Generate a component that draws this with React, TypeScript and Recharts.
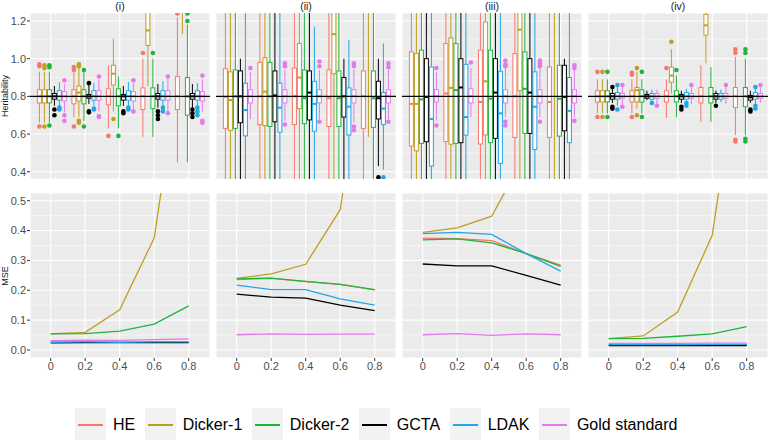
import React from "react";
import { ComposedChart, Bar, Line, XAxis, YAxis, CartesianGrid, ReferenceLine } from "recharts";

const METHODS = ["HE", "Dicker-1", "Dicker-2", "GCTA", "LDAK", "Gold standard"];
const COLORS = ["#F8766D", "#C09E22", "#1FB53A", "#000000", "#21A6E8", "#E27AEB"];
const H2 = [0, 0.2, 0.4, 0.6, 0.8];
const H2_LABELS = ["0", "0.2", "0.4", "0.6", "0.8"];
const PANELS = ["(i)", "(ii)", "(iii)", "(iv)"];
const HERIT_TICKS = [0.4, 0.6, 0.8, 1.0, 1.2];
const HERIT_MINOR = [0.5, 0.7, 0.9, 1.1];
const MSE_TICKS = [0, 0.1, 0.2, 0.3, 0.4, 0.5];
const MSE_MINOR = [0.05, 0.15, 0.25, 0.35, 0.45];
const TRUE_H2 = 0.8;

type Box = [number, number, number, number, number, number[]]; // lo, q1, med, q3, hi, outliers

// one row per h2 value, one box per method (HE, Dicker-1, Dicker-2, GCTA, LDAK, Gold)
const BOX_I: Box[][] = [
  [[.66, .765, .80, .835, .93, [.97, .96, .64]], [.66, .765, .80, .835, .93, [.965, .95, .64]], [.66, .765, .80, .835, .93, [.965, .955, .645]], [.75, .785, .80, .815, .855, [.73, .70]], [.745, .78, .80, .83, .875, [.74, .73]], [.715, .775, .80, .825, .865, [.885, .70, .67]]],
  [[.69, .76, .80, .835, .95, [.955, .94, .64]], [.69, .775, .82, .855, .955, [.97, .96, .67, .66]], [.67, .76, .80, .835, .93, [.94, .64]], [.76, .79, .80, .81, .86, [.87, .72, .715]], [.75, .78, .80, .83, .87, [.735, .73]], [.72, .78, .80, .83, .89, [.905, .695, .69]]],
  [[.63, .755, .80, .84, .965, [.59]], [.72, .86, .92, .965, 1.105, [.68]], [.63, .75, .80, .84, .905, [.59]], [.75, .78, .80, .81, .855, [.72, .71]], [.75, .78, .80, .83, .875, [.74, .73]], [.73, .775, .80, .825, .87, [.885, .72]]],
  [[.585, .73, .80, .845, 1.0, [1.03]], [.855, 1.07, 1.15, 1.245, 1.40, []], [.585, .735, .80, .845, 1.0, [1.03]], [.74, .785, .80, .815, .865, [.72, .70, .68]], [.75, .78, .80, .83, .88, [.74, .72]], [.72, .78, .80, .83, .895, [.905, .71]]],
  [[.45, .73, .80, .905, 1.22, [1.24]], [1.13, 1.35, 1.5, 1.65, 2.0, []], [.45, .70, .80, .90, 1.18, [1.24, 1.20]], [.74, .785, .80, .815, .865, [.73, .71, .69]], [.75, .78, .80, .83, .87, [.74, .72, .70]], [.72, .775, .80, .825, .89, [.91, .67, .66]]],
];
const BOX_II: Box[][] = [
  [[.2, .63, .797, .947, 1.4, []], [.2, .62, .78, .93, 1.4, []], [.2, .63, .80, .94, 1.4, []], [.2, .66, .80, .935, 1.0, []], [.2, .59, .727, .87, 1.4, []], [.68, .765, .80, .835, .93, [.95]]],
  [[.2, .65, .80, .98, 1.4, []], [.2, .645, .825, 1.005, 1.4, []], [.2, .64, .80, .98, 1.4, []], [.2, .665, .805, .935, 1.4, []], [.2, .61, .74, .87, 1.4, []], [.67, .765, .80, .835, .94, [.975, .96, .65]]],
  [[.2, .65, .80, .95, 1.4, []], [.2, .735, .90, 1.08, 1.4, []], [.2, .655, .79, .94, 1.4, []], [.2, .675, .82, .935, 1.4, []], [.2, .615, .76, .88, 1.17, []], [.68, .765, .80, .835, .94, [.985, .96, .665]]],
  [[.2, .64, .79, .94, 1.4, []], [.2, .92, 1.13, 1.3, 1.6, []], [.2, .64, .79, .935, 1.4, []], [.2, .69, .80, .90, 1.0, []], [.2, .595, .745, .845, 1.10, []], [.66, .765, .80, .835, .94, [.975, .96, .64, .62]]],
  [[.2, .63, .80, .935, 1.4, []], [.585, 1.3, 1.5, 1.7, 2.0, []], [.2, .635, .79, .935, 1.4, []], [.43, .68, .79, .88, 1.0, [.37]], [.41, .65, .735, .82, 1.08, [.37]], [.68, .765, .80, .835, .94, [.975, .955, .665]]],
];
const BOX_III: Box[][] = [
  [[.2, .536, .76, 1.036, 1.6, []], [.2, .511, .76, 1.027, 1.6, []], [.2, .55, .784, 1.045, 1.6, []], [.2, .559, .797, 1.0, 1.6, []], [.2, .43, .68, .956, 1.6, []], [.67, .77, .80, .836, .93, [.95, .645]]],
  [[.2, .56, .815, 1.08, 1.6, []], [.2, .546, .845, 1.11, 1.6, []], [.2, .55, .833, 1.08, 1.6, []], [.2, .554, .847, 1.0, 1.6, []], [.2, .594, .69, .97, 1.6, []], [.69, .765, .80, .84, .95, [.98]]],
  [[.2, .547, .77, 1.045, 1.6, []], [.2, .595, .88, 1.195, 1.8, []], [.2, .554, .788, 1.045, 1.6, []], [.2, .577, .82, 1.0, 1.6, []], [.2, .444, .71, .933, 1.6, []], [.69, .765, .80, .835, .95, [.99, .97, .96, .665, .645]]],
  [[.2, .582, .80, 1.027, 1.6, []], [.2, .83, 1.154, 1.35, 1.8, []], [.2, .603, .84, 1.036, 1.6, []], [.2, .603, .82, 1.0, 1.6, []], [.2, .518, .745, .93, 1.6, []], [.69, .765, .80, .835, .95, [.99, .975, .96, .665]]],
  [[.2, .582, .77, .956, 1.6, []], [.2, 1.3, 1.5, 1.7, 2.0, []], [.2, .589, .787, .965, 1.6, []], [.2, .617, .797, .965, 1.0, []], [.2, .554, .723, .90, 1.6, []], [.69, .765, .80, .835, .94, [.965, .95, .67]]],
];
const BOX_IV: Box[][] = [
  [[.71, .77, .80, .83, .89, [.93, .69]], [.71, .77, .80, .83, .89, [.93, .69]], [.71, .77, .80, .83, .89, [.93, .69]], [.765, .785, .80, .815, .84, [.85, .745, .735]], [.75, .785, .80, .82, .85, [.86, .73]], [.755, .79, .80, .815, .85, [.86, .745]]],
  [[.71, .77, .80, .83, .89, [.925, .915, .69]], [.735, .77, .833, .847, .93, [.95, .70]], [.71, .77, .80, .835, .89, [.93, .69]], [.78, .79, .80, .81, .83, []], [.77, .785, .80, .815, .835, [.765]], [.76, .79, .80, .815, .835, [.75]]],
  [[.685, .77, .80, .83, .89, [.95]], [.815, .875, .91, .955, 1.05, [1.09]], [.69, .77, .80, .83, .91, [.94]], [.765, .785, .80, .81, .83, [.745, .73]], [.76, .785, .80, .82, .84, [.765, .75]], [.76, .79, .80, .815, .85, [.86]]],
  [[.665, .765, .80, .847, .965, []], [.975, 1.125, 1.177, 1.235, 1.40, []], [.665, .765, .80, .847, .955, []], [.765, .785, .80, .815, .83, [.75]], [.77, .785, .80, .815, .835, []], [.76, .79, .80, .815, .85, [.86]]],
  [[.595, .74, .80, .847, 1.01, [1.05, 1.03, .57, .56]], [1.3, 1.4, 1.5, 1.6, 1.8, []], [.595, .745, .80, .847, 1.0, [1.05, 1.03, .575, .56]], [.765, .78, .795, .805, .83, [.73, .72]], [.76, .785, .80, .82, .84, [.85, .75, .735]], [.765, .79, .80, .815, .85, [.86]]],
];

// MSE per method (rows) at each h2 value
const MSE_I = [
  [.027, .027, .026, .026, .026],
  [.054, .059, .135, .375, 1.15],
  [.054, .055, .063, .087, .148],
  [.024, .025, .025, .025, .025],
  [.026, .027, .026, .027, .027],
  [.031, .033, .032, .035, .037],
];
const MSE_II = [
  [.236, .240, .229, .220, .201],
  [.240, .255, .287, .470, 1.2],
  [.238, .241, .230, .220, .202],
  [.187, .177, .174, .150, .132],
  [.217, .202, .202, .171, .150],
  [.051, .054, .052, .053, .053],
];
const MSE_III = [
  [.375, .373, .366, .323, .284],
  [.394, .409, .448, .66, 1.1],
  [.369, .372, .359, .323, .280],
  [.288, .282, .282, .250, .217],
  [.390, .394, .387, .323, .264],
  [.051, .055, .049, .054, .051],
];
const MSE_IV = [
  [.018, .018, .018, .018, .018],
  [.038, .047, .127, .384, 1.15],
  [.038, .039, .046, .054, .078],
  [.015, .015, .015, .015, .015],
  [.018, .018, .018, .019, .019],
  [.022, .022, .022, .023, .023],
];

const BOXES = [BOX_I, BOX_II, BOX_III, BOX_IV];
const MSES = [MSE_I, MSE_II, MSE_III, MSE_IV];

const FONT = "'Liberation Sans', Arial, sans-serif";
const PANEL_W = 180;
const PANEL_STEP = 186;
const FIRST_LEFT = 30;
const TOP_Y = 13;
const TOP_H = 166;
const BOT_Y = 193;
const BOT_H = 165;
const X_AXIS_H = 20;
const HERIT_DOMAIN: [number, number] = [0.3613, 1.2424];
const MSE_DOMAIN: [number, number] = [-0.0268, 0.5258];
const X_DOMAIN: [number, number] = [-0.12, 0.9235];

const tickStyle = { fill: "#4D4D4D", fontSize: 11, fontFamily: FONT };

function boxShape(mi: number) {
  return (p: any) => {
    const [lo, q1, med, q3, hi, out] = p.payload.stats[mi] as Box;
    const top = p.y;
    const bot = p.y + p.height;
    const py = (v: number) => bot - ((v - lo) / (hi - lo)) * (bot - top);
    const cx = p.x + p.width / 2;
    const c = COLORS[mi];
    return (
      <g>
        <line x1={cx} x2={cx} y1={py(hi)} y2={py(q3)} stroke={c} strokeWidth={1} />
        <line x1={cx} x2={cx} y1={py(q1)} y2={py(lo)} stroke={c} strokeWidth={1} />
        <rect x={p.x + 0.5} y={py(q3)} width={p.width - 1} height={py(q1) - py(q3)} fill="#FFFFFF" stroke={c} strokeWidth={1} />
        <line x1={p.x + 0.5} x2={p.x + p.width - 0.5} y1={py(med)} y2={py(med)} stroke={c} strokeWidth={2} />
        {out.map((o, k) => (
          <circle key={k} cx={cx} cy={py(o)} r={2.3} fill={c} />
        ))}
      </g>
    );
  };
}

function TopPanel({ k }: { k: number }) {
  const first = k === 0;
  const data = H2.map((h, j) => ({ x: H2_LABELS[j], h, stats: BOXES[k][j] }));
  const left = FIRST_LEFT + PANEL_STEP * k - (first ? 30 : 0);
  return (
    <div style={{ position: "absolute", left, top: TOP_Y }}>
      <ComposedChart width={PANEL_W + (first ? 30 : 0)} height={TOP_H} data={data} margin={{ top: 0, right: 0, bottom: 0, left: 0 }} barCategoryGap={3.45} barGap={0}>
        <CartesianGrid fill="#EBEBEB" stroke="#FFFFFF" strokeWidth={0.5} vertical={false} horizontalValues={HERIT_MINOR} />
        <CartesianGrid stroke="#FFFFFF" strokeWidth={1.1} xAxisId="num" />
        <XAxis dataKey="x" type="category" hide padding={{ left: 3.45, right: 4.05 }} />
        <XAxis xAxisId="num" dataKey="h" type="number" hide domain={X_DOMAIN} allowDataOverflow ticks={H2} />
        <YAxis
          hide={!first}
          width={30}
          domain={HERIT_DOMAIN}
          allowDataOverflow
          ticks={HERIT_TICKS}
          interval={0}
          tickFormatter={(v: number) => v.toFixed(1)}
          axisLine={false}
          tickLine={{ stroke: "#333333" }}
          tickSize={3}
          tickMargin={1}
          tick={tickStyle}
        />
        {METHODS.map((m, i) => (
          <Bar
            key={m}
            name={m}
            dataKey={(d: any) => [d.stats[i][0], d.stats[i][4]]}
            shape={boxShape(i)}
            isAnimationActive={false}
          />
        ))}
        <ReferenceLine y={TRUE_H2} stroke="#000000" strokeWidth={1.4} />
      </ComposedChart>
    </div>
  );
}

function BottomPanel({ k }: { k: number }) {
  const first = k === 0;
  const data = H2.map((h, j) => {
    const row: any = { x: h };
    METHODS.forEach((_, i) => (row[`m${i}`] = MSES[k][i][j]));
    return row;
  });
  const left = FIRST_LEFT + PANEL_STEP * k - (first ? 30 : 0);
  return (
    <div style={{ position: "absolute", left, top: BOT_Y }}>
      <ComposedChart width={PANEL_W + (first ? 30 : 0)} height={BOT_H + X_AXIS_H} data={data} margin={{ top: 0, right: 0, bottom: 0, left: 0 }}>
        <CartesianGrid fill="#EBEBEB" stroke="#FFFFFF" strokeWidth={0.5} vertical={false} horizontalValues={MSE_MINOR} />
        <CartesianGrid stroke="#FFFFFF" strokeWidth={1.1} />
        <XAxis
          dataKey="x"
          type="number"
          domain={X_DOMAIN}
          allowDataOverflow
          ticks={H2}
          interval={0}
          height={X_AXIS_H}
          tickFormatter={(v: number) => H2_LABELS[H2.indexOf(v)]}
          axisLine={false}
          tickLine={{ stroke: "#333333" }}
          tickSize={3}
          tickMargin={1}
          tick={tickStyle}
        />
        <YAxis
          hide={!first}
          width={30}
          domain={MSE_DOMAIN}
          allowDataOverflow
          ticks={MSE_TICKS}
          interval={0}
          tickFormatter={(v: number) => v.toFixed(1)}
          axisLine={false}
          tickLine={{ stroke: "#333333" }}
          tickSize={3}
          tickMargin={1}
          tick={tickStyle}
        />
        {METHODS.map((m, i) => (
          <Line key={m} name={m} dataKey={`m${i}`} stroke={COLORS[i]} strokeWidth={1.3} dot={false} isAnimationActive={false} />
        ))}
      </ComposedChart>
    </div>
  );
}

function AxisTitle({ text, y }: { text: string; y: number }) {
  return (
    <div
      style={{
        position: "absolute",
        left: 5,
        top: y,
        transform: "translate(-50%, -50%) rotate(-90deg)",
        fontSize: 9,
        color: "#1A1A1A",
        whiteSpace: "nowrap",
        lineHeight: 1,
      }}
    >
      {text}
    </div>
  );
}

export default function App() {
  return (
    <div style={{ position: "absolute", left: 0, top: 0, width: 768, height: 441, background: "#FFFFFF", fontFamily: FONT, overflow: "hidden" }}>
      {PANELS.map((p, k) => (
        <div
          key={p}
          style={{ position: "absolute", left: FIRST_LEFT + PANEL_STEP * k, width: PANEL_W, top: 0, height: 13, lineHeight: "13px", textAlign: "center", fontSize: 10.5, color: "#1A1A1A" }}
        >
          {p}
        </div>
      ))}
      {PANELS.map((p, k) => (
        <TopPanel key={p} k={k} />
      ))}
      {PANELS.map((p, k) => (
        <BottomPanel key={p} k={k} />
      ))}
      <AxisTitle text="Heritability" y={TOP_Y + TOP_H / 2} />
      <AxisTitle text="MSE" y={BOT_Y + BOT_H / 2} />
      <div style={{ position: "absolute", left: 75, top: 408, display: "flex", alignItems: "center", height: 32 }}>
        {METHODS.map((m, i) => (
          <div key={m} style={{ display: "flex", alignItems: "center", marginRight: 9.5 }}>
            <div style={{ width: 31, height: 32, background: "#F2F2F2", position: "relative", marginRight: 7 }}>
              <div style={{ position: "absolute", left: 3, right: 3, top: 16, height: 2, background: COLORS[i] }} />
            </div>
            <span style={{ fontSize: 16, color: "#000000", lineHeight: "32px", paddingTop: 2 }}>{m}</span>
          </div>
        ))}
      </div>
    </div>
  );
}
